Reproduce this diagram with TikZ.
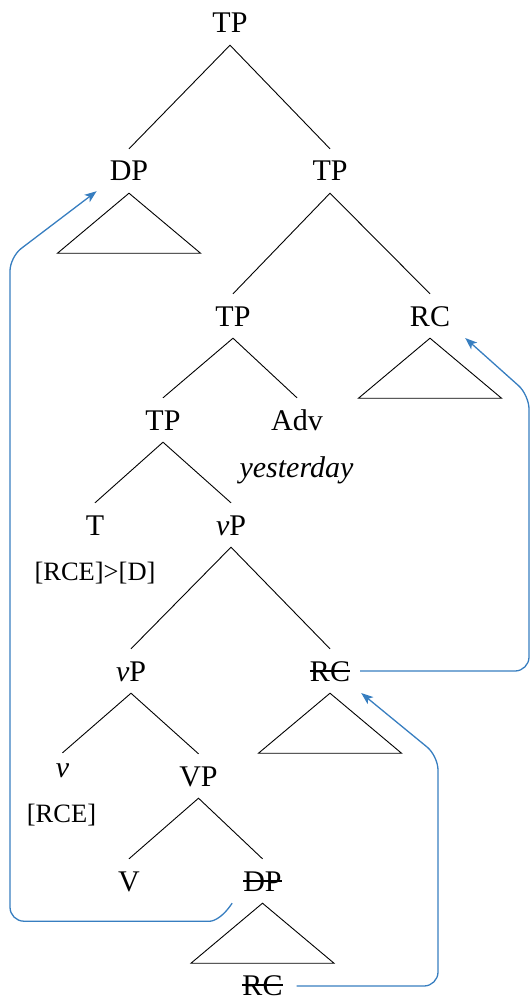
\documentclass[tikz,border=0pt]{standalone}
\usepackage{fontspec}
\setmainfont{Liberation Serif}
\usetikzlibrary{arrows.meta,calc}

% struck-through label (deleted copy)
\newcommand\struck[1]{\setbox0=\hbox{#1}\rlap{\rule[0.31em]{\wd0}{0.045em}}\box0}

\definecolor{movecol}{RGB}{55,126,192}

\tikzset{
  x=1pt, y=-1pt,
  lab/.style={anchor=base, inner xsep=0pt, inner ysep=12pt, text height=20pt, text depth=0pt,
              font=\fontsize{30}{36}\selectfont},
  feat/.style={anchor=base, inner sep=0pt, font=\fontsize{26.5}{32}\selectfont},
  branch/.style={draw=black, line width=0.9pt},
  tri/.style={draw=black, line width=0.9pt, line join=miter},
  move/.style={draw=movecol, line width=1.3pt, rounded corners=14pt,
               -{Stealth[length=12pt,width=9pt,inset=3pt]}},
}

\begin{document}
\begin{tikzpicture}
\useasboundingbox (0,0) rectangle (530,1000);

% nodes (placed on their baselines)
\node[lab] (tp0) at (230,33) {TP};
\node[lab] (dp1) at (129,181) {DP};
\node[lab] (tp1) at (330,181) {TP};
\node[lab] (tp2) at (233,326) {TP};
\node[lab] (rc2) at (430,326) {RC};
\node[lab] (tp3) at (163,430) {TP};
\node[lab] (adv) at (297,430) {Adv};
\node[lab, inner ysep=0pt] (yest) at (296.5,477) {\itshape yesterday};
\node[lab] (t) at (95,535) {T};
\node[lab] (vp1) at (231,535) {\textit{v}P};
\node[feat] (f1) at (95,580) {[RCE]>[D]};
\node[lab] (vp2) at (131,681) {\textit{v}P};
\node[lab] (rc3) at (330,681) {\struck{RC}};
\node[lab, text height=12pt] (v) at (62.5,777) {\textit{v}};
\node[lab] (vp) at (198.5,786) {VP};
\node[feat] (f2) at (61.5,822) {[RCE]};
\node[lab] (vv) at (129,891) {V};
\node[lab] (dpt) at (262.5,891) {\struck{DP}};
\node[lab] (rcb) at (262.5,995) {\struck{RC}};

% branches
\draw[branch] (tp1.north) -- (tp0.south) -- (dp1.north);
\draw[branch] (tp2.north) -- (tp1.south) -- (rc2.north);
\draw[branch] (tp3.north) -- (tp2.south) -- (adv.north);
\draw[branch] (t.north) -- (tp3.south) -- (vp1.north);
\draw[branch] (vp2.north) -- (vp1.south) -- (rc3.north);
\draw[branch] (v.north) -- (vp2.south) -- (vp.north);
\draw[branch] (vv.north) -- (vp.south) -- (dpt.north);

% phrases drawn as triangles
\foreach \n in {dp1,rc2,rc3,dpt}
  \draw[tri] (\n.south) -- ++(-71.5,60) -- ++(143,0) -- cycle;

% movement arrows
\coordinate (lane1) at (10,257);
\coordinate (a1s) at ($(dpt.south west)+(-11,0)$);
\coordinate (a1h) at ($(a1s)+(-36,18)$);
\coordinate (a1e) at ($(dp1.south west)+(-13,-2)$);
\draw[move] (a1s) .. controls ($(a1s)+(-12,18)$) and ($(a1s)+(-22,18)$) .. (a1h)
  -- (a1h -| lane1) -- (lane1) -- (a1e);

\coordinate (lane2) at (529,395);
\coordinate (a2s) at ($(rc3.base east)+(10,-10)$);
\coordinate (a2e) at ($(rc2.base east)+(15,12)$);
\draw[move] (a2s) -- (a2s -| lane2) -- (lane2) -- (a2e);

\coordinate (lane3) at (438,756);
\coordinate (a3s) at ($(rcb.base east)+(14,-9)$);
\coordinate (a3e) at ($(rc3.base east)+(11,12)$);
\draw[move] (a3s) -- (a3s -| lane3) -- (lane3) -- (a3e);
\end{tikzpicture}
\end{document}
